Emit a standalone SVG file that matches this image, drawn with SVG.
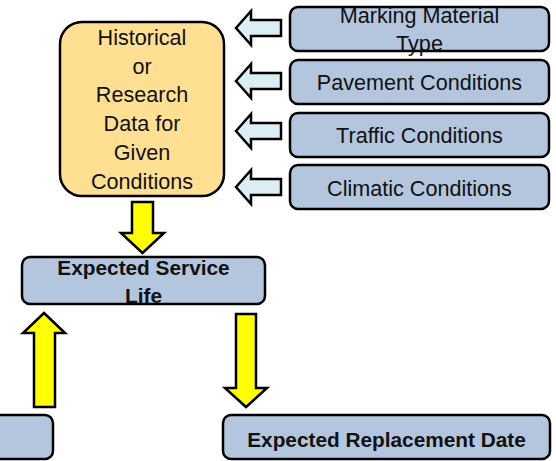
<svg xmlns="http://www.w3.org/2000/svg" width="556" height="461" viewBox="0 0 556 461">
<style>
.box{fill:#B3C6DD;stroke:#000;stroke-width:2.5}
.hist{fill:#FFE093;stroke:#000;stroke-width:2.5}
.t{font-family:"Liberation Sans",Arial,sans-serif;font-size:21.6px;fill:#111;text-anchor:middle}
.b{font-family:"Liberation Sans",Arial,sans-serif;font-size:20.8px;font-weight:bold;fill:#111;text-anchor:middle}
.ya{fill:#FFFF00;stroke:#000;stroke-width:2.5;stroke-linejoin:miter}
.ba{fill:#DAEEF3;stroke:#000;stroke-width:2.5;stroke-linejoin:miter}
</style>
<rect width="556" height="461" fill="#fff"/>
<g id="connectors">
<path class="ba" d="M236,28 L251,11 L251,20 L281,20 L281,36 L251,36 L251,45 Z"/>
<path class="ba" d="M236,81 L251,64 L251,73 L281,73 L281,89 L251,89 L251,98 Z"/>
<path class="ba" d="M236,131 L251,114 L251,123 L281,123 L281,139 L251,139 L251,148 Z"/>
<path class="ba" d="M236,187 L251,170 L251,179 L281,179 L281,195 L251,195 L251,204 Z"/>
<path class="ya" d="M132,202 L153,202 L153,233 L164,233 L142.5,253 L121,233 L132,233 Z"/>
<path class="ya" d="M44,313 L65,333 L55,333 L55,407 L34,407 L34,333 L23,333 Z"/>
<path class="ya" d="M236,314 L256,314 L256,388 L267,388 L246,407 L225,388 L236,388 Z"/>
</g>
<g id="historical">
<rect class="hist" x="60" y="22" width="164" height="174" rx="22"/>
<text class="t" x="142" y="45">Historical</text>
<text class="t" x="142" y="74">or</text>
<text class="t" x="142" y="102">Research</text>
<text class="t" x="142" y="131">Data for</text>
<text class="t" x="142" y="160">Given</text>
<text class="t" x="142" y="189">Conditions</text>
</g>
<g id="marking">
<rect class="box" x="290" y="7" width="259" height="44" rx="8"/>
<text class="t" x="419.5" y="23">Marking Material</text>
<text class="t" x="419.5" y="51">Type</text>
</g>
<g id="pavement">
<rect class="box" x="290" y="60" width="259" height="44" rx="8"/>
<text class="t" x="419.5" y="90">Pavement Conditions</text>
</g>
<g id="traffic">
<rect class="box" x="290" y="113" width="259" height="44" rx="8"/>
<text class="t" x="419.5" y="143">Traffic Conditions</text>
</g>
<g id="climatic">
<rect class="box" x="290" y="165" width="259" height="44" rx="8"/>
<text class="t" x="419.5" y="196">Climatic Conditions</text>
</g>
<g id="service">
<rect class="box" x="22" y="257" width="243" height="47" rx="8"/>
<text class="b" x="143.5" y="275">Expected Service</text>
<text class="b" x="143.5" y="303">Life</text>
</g>
<g id="left-box">
<rect class="box" x="-200" y="415" width="253" height="44" rx="8"/>
</g>
<g id="replacement">
<rect class="box" x="223" y="415" width="327" height="44" rx="8"/>
<text class="b" x="386.5" y="447">Expected Replacement Date</text>
</g>
</svg>
